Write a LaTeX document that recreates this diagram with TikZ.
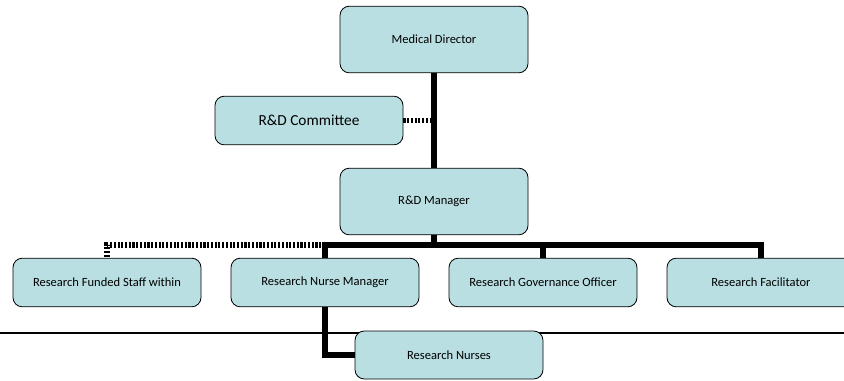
\documentclass[tikz,border=0pt]{standalone}
\usepackage{fontspec}
\setmainfont{Carlito}
\usepackage{tikz}
\usetikzlibrary{positioning, calc}
\definecolor{boxblue}{RGB}{185, 223, 226}

\tikzset{
  rolebox/.style={draw=black, fill=boxblue, rounded corners=7pt, line width=0.6pt,
    minimum width=141pt, align=center, font=\fontsize{9.4}{11}\selectfont},
  tallbox/.style={rolebox, minimum height=50pt},
  flatbox/.style={rolebox, minimum height=36.5pt},
  reports/.style={line width=5.2pt, draw=black},
  advises/.style={line width=4pt, draw=black, dash pattern=on 1.6pt off 1.2pt}
}

\begin{document}
\begin{tikzpicture}[x=0.75pt, y=-0.75pt]
  \clip (0, 0) rectangle (844, 380);

  % Separator line behind the last box
  \coordinate (rule west) at (0, 333);
  \coordinate (rule east) at (844, 333);
  \draw[line width=2.2pt] (rule west) -- (rule east);

  % Top of the chart
  \node[tallbox] (director) at (434, 39.5) {Medical Director};
  \node[flatbox, font=\fontsize{11.5}{13}\selectfont] (committee) at (309, 120.5) {R\&D Committee};
  \node[tallbox] (manager) at (434, 201.5) {R\&D Manager};

  % Staff row
  \node[flatbox] (funded) at (107, 282.5) {Research Funded Staff within};
  \node[flatbox] (nursemgr) at (325, 282.5) {Research Nurse Manager};
  \node[flatbox] (governance) at (543, 282.5) {Research Governance Officer};
  \node[flatbox] (facilitator) at (761, 282.5) {Research Facilitator};
  \node[flatbox, minimum height=36pt] (nurses) at (449, 355) {Research Nurses};

  % Connectors
  \coordinate (bus) at (434, 245);
  \draw[reports] (director.south) -- (manager.north);
  \draw[advises] (committee.east) -- (committee.east -| director.south);
  \draw[reports] (manager.south) -- (bus);
  \draw[reports] (nursemgr.north) |- (bus) -| (facilitator.north);
  \draw[reports] (bus -| governance.north) -- (governance.north);
  \draw[advises] (bus -| nursemgr.north) -| (funded.north);
  \draw[reports] (nursemgr.south) |- (nurses.west);
\end{tikzpicture}
\end{document}
